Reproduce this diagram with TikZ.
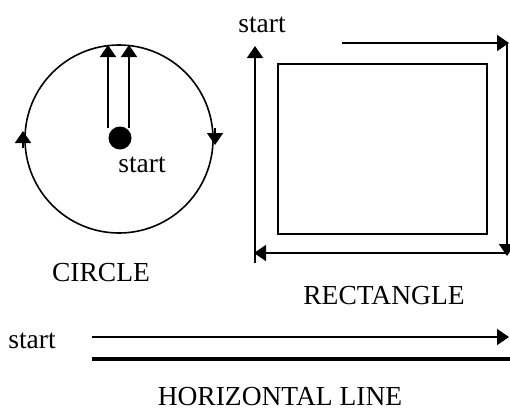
\documentclass[tikz,border=0pt]{standalone}
\usepackage{fontspec}
\setmainfont{Liberation Serif}
\usetikzlibrary{arrows.meta, positioning}

\begin{document}
\begin{tikzpicture}[x=1pt,y=-1pt,>={Triangle[length=12pt,width=16pt]},
 line width=1.6pt,
 label text/.style={font=\fontsize{27.5}{30}\selectfont,inner sep=0pt}]

  \useasboundingbox (0,0) rectangle (510,412);

  % circle
  \coordinate (c) at (119,139);
  \draw (c) circle (94);
  \fill (120,138) circle (11.5);
  \draw[->] (108,128) -- (108,45);
  \draw[->] (129,128) -- (129,45);
  \draw[->] (23,148) -- (23,131);
  \draw[->] (215,128) -- (215,145);
  \node[label text] (cstart) at (142,165) {start};
  \node[label text] (circ) at (101,273) {CIRCLE};

  % rectangle
  \draw (278,64) rectangle (487,234);
  \coordinate (tl) at (342,43);
  \coordinate (tr) at (509,43);
  \coordinate (br) at (507,253);
  \coordinate (bl) at (254,253);
  \draw[->] (tl) -- (tr);
  \draw[->] (507,43) -- (507,256);
  \draw[->] (br) -- (bl);
  \draw[->] (255,263) -- (255,46);
  \node[label text] (rstart) at (262,25) {start};
  \node[label text] (rect) at (384,296) {RECTANGLE};

  % horizontal line
  \node[label text] (hstart) at (32,341) {start};
  \coordinate (h1) at (92,337);
  \coordinate (h2) at (509,337);
  \draw[->] (h1) -- (h2);
  \draw[line width=4pt] (92,359) -- (510,359);
  \node[label text] (hline) at (280,397) {HORIZONTAL LINE};

\end{tikzpicture}
\end{document}
